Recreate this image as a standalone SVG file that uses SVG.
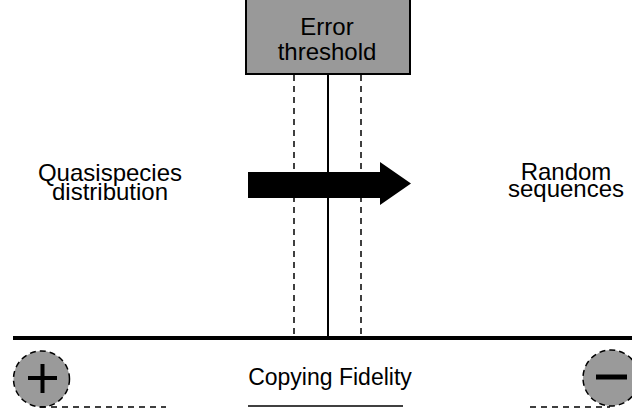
<svg xmlns="http://www.w3.org/2000/svg" width="632" height="409" viewBox="0 0 632 409">
<style>
text{font-family:"Liberation Sans",Arial,sans-serif;font-size:24px;fill:#000}
.dash{stroke:#000;stroke-width:1.5;stroke-dasharray:6,5;fill:none}
.circ{fill:#9a9a9a;stroke:#000;stroke-width:1.5;stroke-dasharray:6,4}
</style>
<rect width="632" height="409" fill="#fff"/>
<g id="connectors">
<line x1="328" y1="75" x2="328" y2="338" stroke="#000" stroke-width="2"/>
<line class="dash" x1="294" y1="75" x2="294" y2="338"/>
<line class="dash" x1="361" y1="75" x2="361" y2="338"/>
<line x1="13" y1="338" x2="632" y2="338" stroke="#000" stroke-width="4"/>
<polygon points="248,172 380,172 380,162 411,183.5 380,205 380,198 248,198" fill="#000"/>
</g>
<g id="error-threshold">
<rect x="246" y="-1" width="164" height="75" fill="#999" stroke="#000" stroke-width="2"/>
<text x="327" y="35" text-anchor="middle">Error</text>
<text x="327" y="60" text-anchor="middle">threshold</text>
</g>
<g id="quasispecies">
<text x="110" y="181" text-anchor="middle">Quasispecies</text>
<text x="110" y="200" text-anchor="middle">distribution</text>
</g>
<g id="random">
<text x="566" y="180" text-anchor="middle">Random</text>
<text x="566" y="197" text-anchor="middle">sequences</text>
</g>
<g id="plus">
<circle class="circ" cx="41.5" cy="379" r="28"/>
<line x1="28" y1="378" x2="57" y2="378" stroke="#000" stroke-width="4"/>
<line x1="42.5" y1="364" x2="42.5" y2="393" stroke="#000" stroke-width="4"/>
<line class="dash" x1="40" y1="407" x2="166" y2="407"/>
</g>
<g id="minus">
<circle class="circ" cx="611" cy="378" r="28"/>
<line x1="596" y1="377" x2="627" y2="377" stroke="#000" stroke-width="5"/>
<line class="dash" x1="530" y1="407" x2="610" y2="407"/>
</g>
<g id="fidelity">
<text x="330" y="385" text-anchor="middle" style="font-size:23px">Copying Fidelity</text>
<line x1="248" y1="406" x2="403" y2="406" stroke="#000" stroke-width="1.5"/>
</g>
</svg>
